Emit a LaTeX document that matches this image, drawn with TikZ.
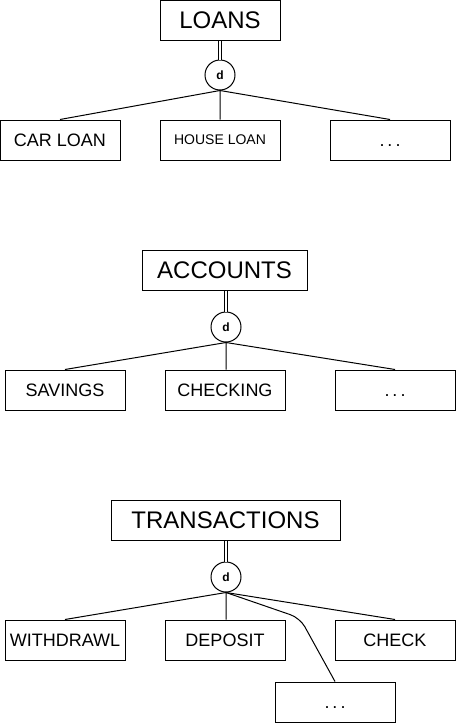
\documentclass[tikz,border=0pt]{standalone}
\usepackage{fontspec}
\setmainfont{Liberation Sans}
\tikzset{
    entity/.style={draw, line width=1pt, minimum height=40pt, inner sep=0pt},
    head/.style={entity, font=\fontsize{24}{26}\selectfont},
    subbox/.style={entity, minimum width=120pt, font=\fontsize{18}{20}\selectfont},
    disj/.style={draw, circle, line width=1pt, minimum size=30pt, inner sep=0pt,
        font=\fontsize{12}{13}\selectfont\bfseries},
    link/.style={line width=1pt},
    total/.style={double, double distance=2pt, line width=1pt}
}

\begin{document}
\begin{tikzpicture}[x=1pt, y=-1pt]
    \useasboundingbox (0,0) rectangle (456,723);
    % loans
    \node[head, minimum width=120pt] (loans) at (220,20.5) {LOANS};
    \node[disj] (dl) at (220,75) {d};
    \node[subbox] (car) at (60,140) {CAR LOAN};
    \node[subbox, font=\fontsize{14}{16}\selectfont] (house) at (220,140) {HOUSE LOAN};
    \node[subbox] (ldots) at (390,140) {\vphantom{A}.\,.\,.};
    \draw[total] (dl.north |- loans.south) -- (dl.north);
    \draw[link] (dl.south) -- (car.north) (dl.south) -- (house.north) (dl.south) -- (ldots.north);

    % accounts
    \node[head, minimum width=165pt] (accounts) at (224.5,270) {ACCOUNTS};
    \node[disj] (da) at (226,327) {d};
    \node[subbox] (savings) at (65,390) {SAVINGS};
    \node[subbox] (checking) at (225,390) {CHECKING};
    \node[subbox] (adots) at (395,390) {\vphantom{A}.\,.\,.};
    \draw[total] (da.north |- accounts.south) -- (da.north);
    \draw[link] (da.south) -- (savings.north) (da.south) -- (da.south |- checking.north) (da.south) -- (adots.north);

    % transactions
    \node[head, minimum width=229pt] (transactions) at (225.5,520) {TRANSACTIONS};
    \node[disj] (dt) at (226,577) {d};
    \node[subbox] (withdrawl) at (65,640) {WITHDRAWL};
    \node[subbox] (deposit) at (225,640) {DEPOSIT};
    \node[subbox] (check) at (395,640) {CHECK};
    \node[subbox] (tdots) at (335,702) {\vphantom{A}.\,.\,.};
    \coordinate (bend) at (300,618);
    \draw[total] (dt.north |- transactions.south) -- (dt.north);
    \draw[link] (dt.south) -- (withdrawl.north) (dt.south) -- (dt.south |- deposit.north) (dt.south) -- (check.north);
    \draw[link, rounded corners=10pt] (dt.south) -- (bend) -- (tdots.north);
\end{tikzpicture}
\end{document}
